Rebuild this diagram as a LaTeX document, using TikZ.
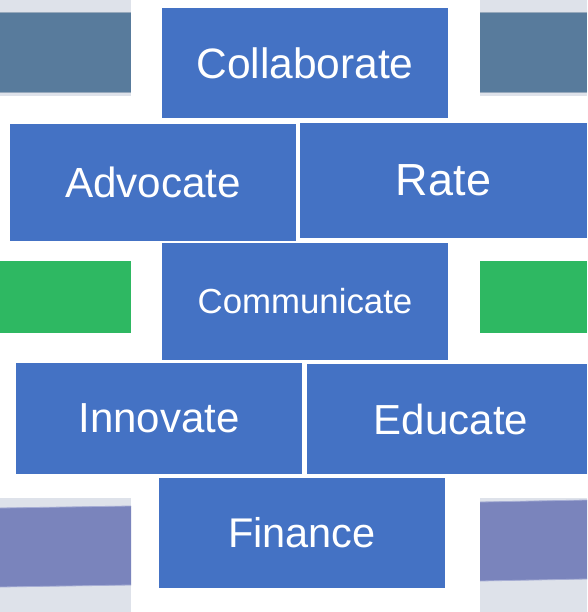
\documentclass[tikz,border=0pt]{standalone}
\usepackage{fontspec}
\setmainfont{Liberation Sans}
\definecolor{tile}{HTML}{4472C4}
\definecolor{mist}{HTML}{DEE2EA}
\definecolor{slate}{HTML}{587B9C}
\definecolor{slateedge}{HTML}{97A9BC}
\definecolor{leaf}{HTML}{2EB862}
\definecolor{lilac}{HTML}{7A84BC}
\definecolor{lilacedge}{HTML}{A6ADD4}
\begin{document}
\begin{tikzpicture}[x=1pt,y=-1pt,
  tilebox/.style={fill=tile,draw=none,inner sep=0pt,text=white,
    font=\fontsize{42.5}{42.5}\selectfont},
  tilelabel/.style={inner sep=0pt,text=white,font=\fontsize{42}{42}\selectfont},
]
\useasboundingbox (0,0) rectangle (587,612);
\fill[white] (0,0) rectangle (587,612);

% side bands, top row
\fill[mist] (0,0) rectangle (131,96);
\fill[slate] (0,12) rectangle (131,92);
\draw[slateedge,line width=0.8pt] (0,12) -- (131,12) (0,92) -- (131,92);
\fill[mist] (480,0) rectangle (587,96);
\fill[slate] (480,12) rectangle (587,92);
\draw[slateedge,line width=0.8pt] (480,12) -- (587,12) (480,92) -- (587,92);

% side bands, middle row
\fill[leaf] (0,261) rectangle (131,333);
\fill[leaf] (480,261) rectangle (587,333);

% side bands, bottom row
\fill[mist] (0,498) rectangle (131,612);
\fill[lilac] (0,508) -- (131,506) -- (131,585) -- (0,587) -- cycle;
\draw[lilacedge,line width=0.8pt] (0,508) -- (131,506) (131,585) -- (0,587);
\fill[mist] (480,498) rectangle (587,612);
\fill[lilac] (480,502) -- (587,500) -- (587,579) -- (480,581) -- cycle;
\draw[lilacedge,line width=0.8pt] (480,502) -- (587,500) (587,579) -- (480,581);

% tiles
\node[tilebox,minimum width=286pt,minimum height=110pt] (collab) at (305,63) {Collaborate};
\node[tilebox,minimum width=286pt,minimum height=117pt,font=\fontsize{42.2}{42}\selectfont] (advocate) at (153,182.5) {Advocate};
\node[tilebox,minimum width=287pt,minimum height=115pt,font=\fontsize{45}{45}\selectfont] (rate) at (443.5,180.5) {Rate};
\node[tilebox,minimum width=286pt,minimum height=117pt,font=\fontsize{34.8}{35}\selectfont] (comm) at (305,301.5) {Communicate};
\node[tilebox,minimum width=286pt,minimum height=111pt,font=\fontsize{42}{42}\selectfont] (innovate) at (159,418.5) {Innovate};
\node[tilebox,minimum width=280pt,minimum height=110pt] (educate) at (447,419) {};
\node[tilelabel] (educatetext) at ([xshift=4pt]educate.center) {Educate};
\node[tilebox,minimum width=286pt,minimum height=110pt,font=\fontsize{41.5}{42}\selectfont] (finance) at (302,533) {Finance};
\end{tikzpicture}
\end{document}
